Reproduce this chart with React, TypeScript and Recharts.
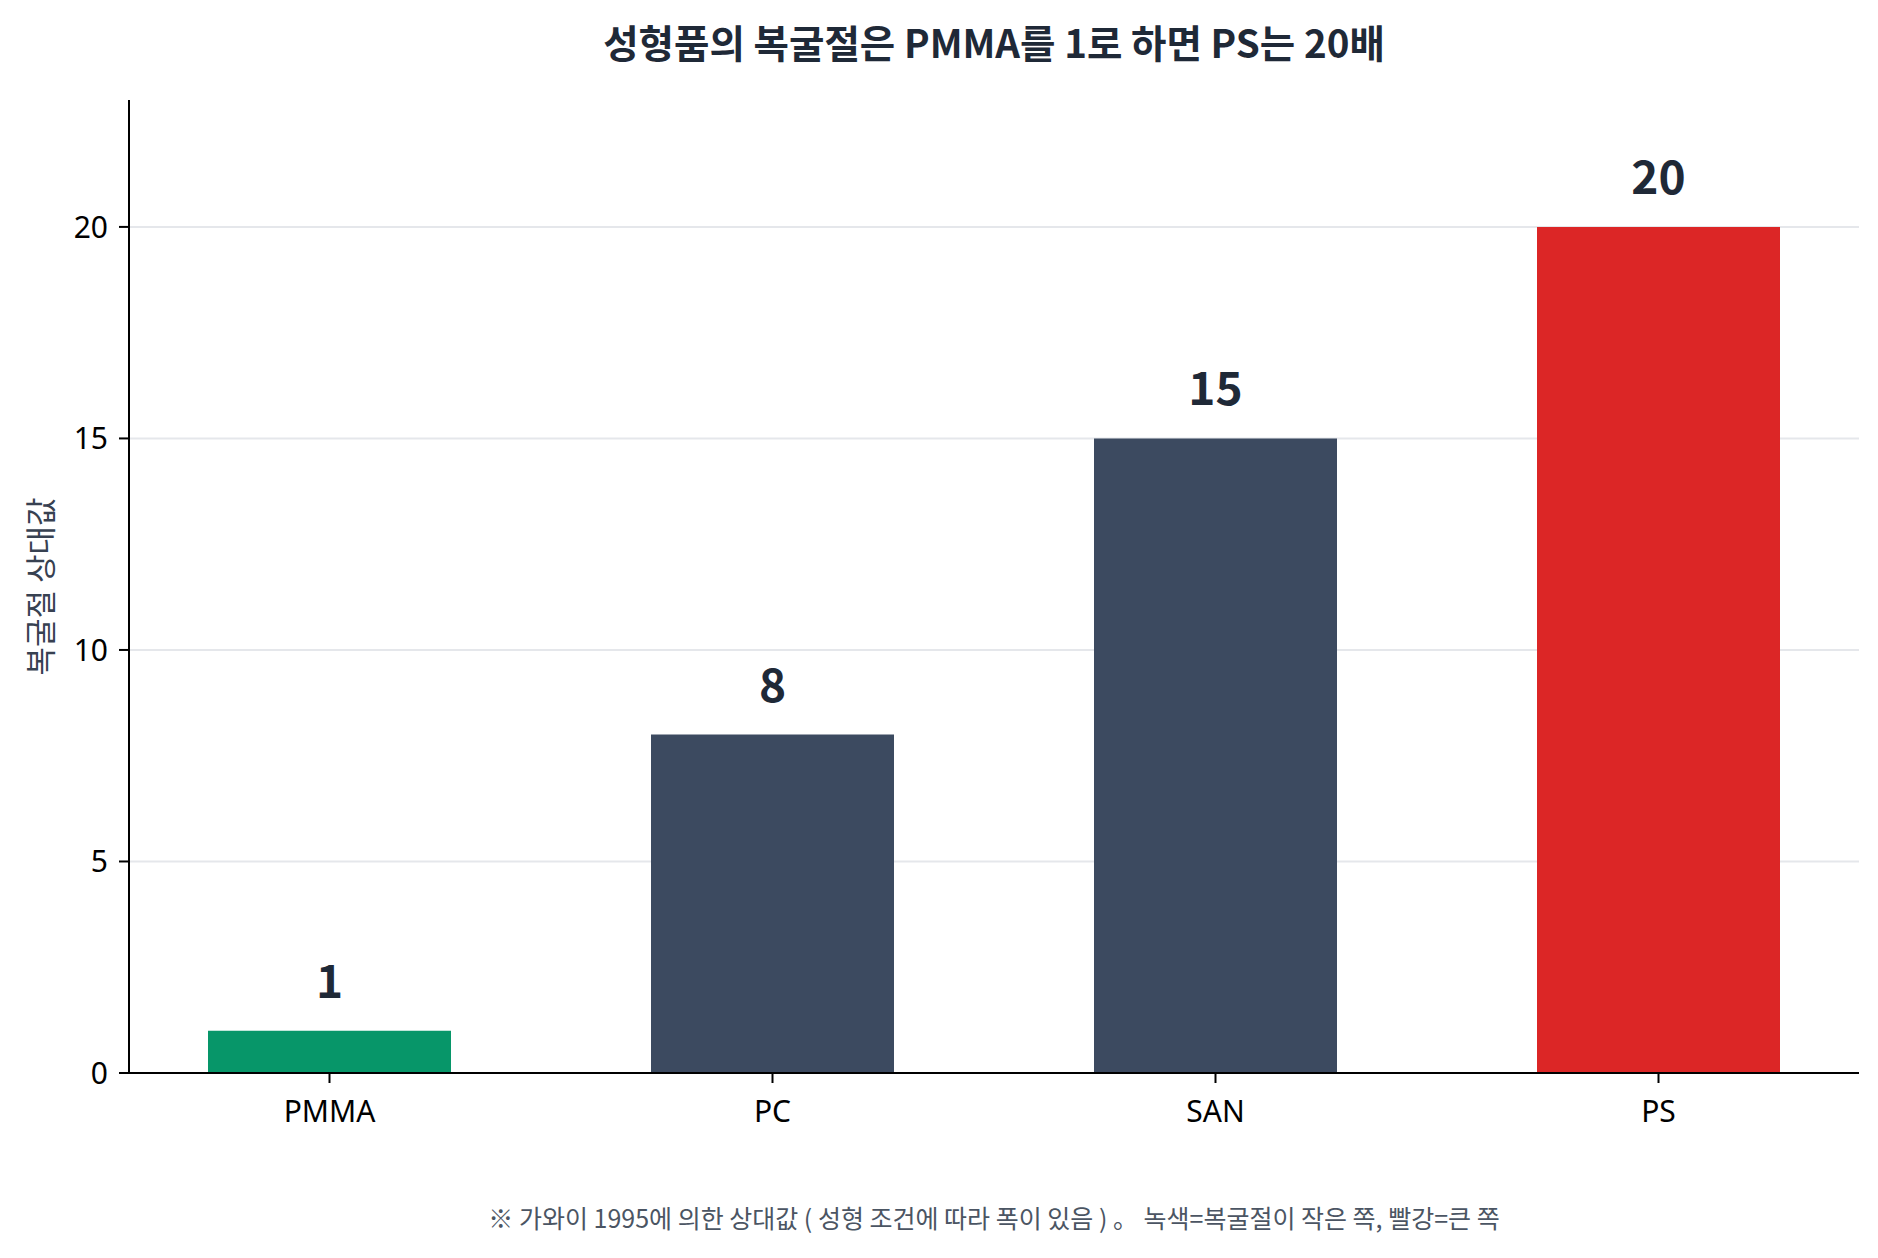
import React from "react";
import {
  BarChart,
  Bar,
  XAxis,
  YAxis,
  CartesianGrid,
  Cell,
  LabelList,
  Label,
} from "recharts";

// Relative birefringence of moulded parts (PMMA = 1)
const materials = ["PMMA", "PC", "SAN", "PS"];
const birefringence = [1, 8, 15, 20];
const barColors = ["#079669", "#3c4a60", "#3c4a60", "#dc2626"];
const yTicks = [0, 5, 10, 15, 20];
const gridValues = [5, 10, 15, 20];

const chartData = materials.map((name, i) => ({
  name,
  value: birefringence[i],
}));

const CJK = "'Noto Sans CJK KR', 'Noto Sans', sans-serif";
const LATIN = "'Noto Sans', 'Noto Sans CJK KR', sans-serif";

// Rotated y-axis title, centred on the plot height
const YTitle = (props: any) => {
  const { viewBox } = props;
  const cx = 38;
  const cy = viewBox.y + viewBox.height / 2;
  return (
    <text
      x={cx}
      y={cy}
      transform={`rotate(-90 ${cx} ${cy})`}
      textAnchor="middle"
      dominantBaseline="central"
      fill="#374151"
      fontSize={31}
      fontFamily={CJK}
    >
      복굴절 상대값
    </text>
  );
};

export default function App() {
  return (
    <div
      style={{
        position: "absolute",
        left: 0,
        top: 0,
        width: 1878,
        height: 1258,
        background: "#ffffff",
      }}
    >
      <div
        style={{
          position: "absolute",
          left: 129,
          width: 1730,
          top: 22,
          textAlign: "center",
          fontFamily: CJK,
          fontWeight: 700,
          fontSize: 38.5,
          lineHeight: "38px",
          color: "#1f2937",
        }}
      >
        성형품의 복굴절은 PMMA를 1로 하면 PS는 20배
      </div>

      <BarChart
        width={1878}
        height={1258}
        data={chartData}
        margin={{ top: 100, right: 19, left: 29, bottom: 125 }}
      >
        <CartesianGrid
          vertical={false}
          horizontalValues={gridValues}
          stroke="#e5e7eb"
          strokeWidth={2}
        />
        <XAxis
          dataKey="name"
          height={60}
          padding={{ left: -21, right: -21 }}
          axisLine={{ stroke: "#000000", strokeWidth: 2 }}
          tickLine={{ stroke: "#000000", strokeWidth: 2 }}
          tickSize={10}
          tickMargin={18}
          tick={{ fill: "#000000", fontSize: 30, fontFamily: LATIN }}
        />
        <YAxis
          width={100}
          domain={[0, 23]}
          ticks={yTicks}
          allowDataOverflow
          axisLine={{ stroke: "#000000", strokeWidth: 2 }}
          tickLine={{ stroke: "#000000", strokeWidth: 2 }}
          tickSize={10}
          tickMargin={11}
          tick={{ fill: "#000000", fontSize: 30, fontFamily: LATIN }}
        >
          <Label content={<YTitle />} />
        </YAxis>
        <Bar dataKey="value" barSize={243} isAnimationActive={false}>
          {chartData.map((d, i) => (
            <Cell key={d.name} fill={barColors[i]} />
          ))}
          <LabelList
            dataKey="value"
            position="top"
            offset={33}
            fill="#1f2937"
            fontSize={46}
            fontWeight={700}
            fontFamily={CJK}
          />
        </Bar>
      </BarChart>

      <div
        style={{
          position: "absolute",
          left: 129,
          width: 1730,
          top: 1205,
          textAlign: "center",
          fontFamily: CJK,
          fontSize: 25,
          lineHeight: "25px",
          color: "#4b5563",
        }}
      >
        ※ 가와이 1995에 의한 상대값 ( 성형 조건에 따라 폭이 있음 ) 。 녹색=복굴절이
        작은 쪽, 빨강=큰 쪽
      </div>
    </div>
  );
}
